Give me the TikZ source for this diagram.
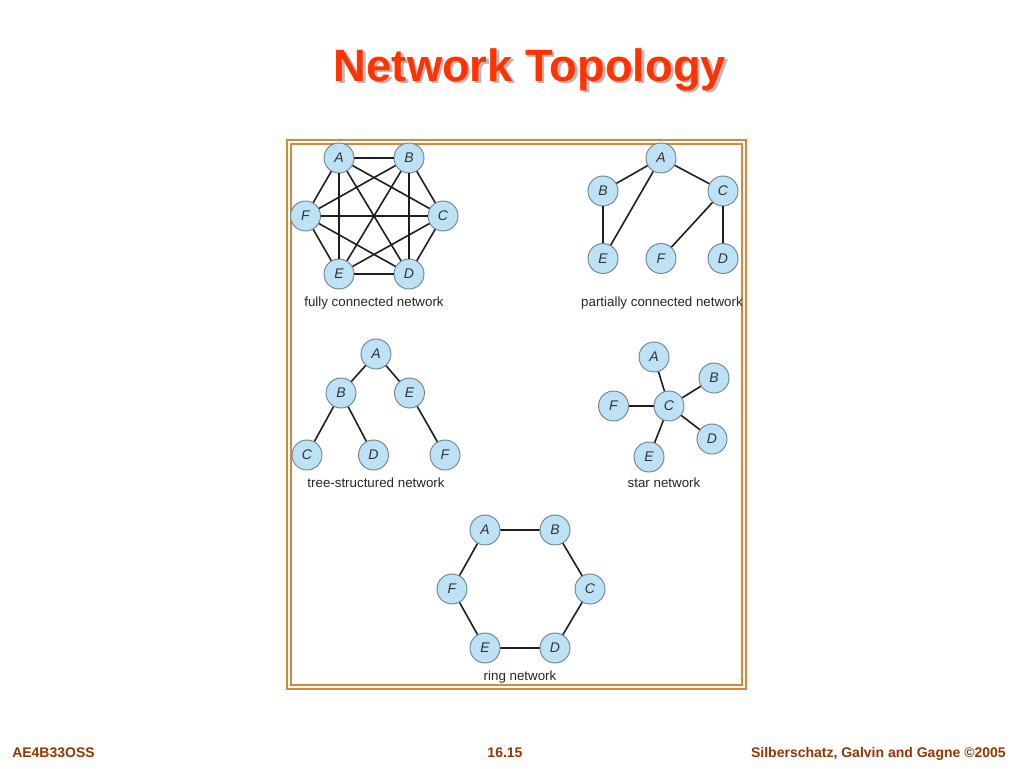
\documentclass[tikz,border=0pt]{standalone}
\usepackage{fontspec}
\setmainfont{Liberation Sans}
\definecolor{titlered}{HTML}{FF3300}
\definecolor{footbrown}{HTML}{993300}
\definecolor{frameorange}{HTML}{D8873A}
\definecolor{nodefill}{HTML}{BEE2F5}
\definecolor{nodeline}{HTML}{6E8290}
\definecolor{edgecol}{HTML}{1E1E1E}
\definecolor{nodetext}{HTML}{333333}
\newcommand{\shadowtitle}[1]{\rlap{\kern1.9pt\raisebox{-1.9pt}{\color{black!28}#1}}#1}
\begin{document}
\begin{tikzpicture}[x=0.75pt,y=-0.75pt,
  nd/.style={circle,draw=nodeline,line width=0.7pt,fill=nodefill,minimum size=22.5pt,inner sep=0pt,text=nodetext,font=\fontsize{10.5}{12}\selectfont\itshape},
  ed/.style={draw=edgecol,line width=1.2pt},
  caption text/.style={font=\fontsize{10}{12}\selectfont,anchor=base,inner sep=0pt,text=black!85},
  foot/.style={font=\fontsize{10.5}{12}\selectfont\bfseries,text=footbrown,anchor=base,inner sep=0pt},
  frm/.style={draw=frameorange,line width=1.1pt}]
\useasboundingbox (0,0) rectangle (1024,768);
% title (with its drop shadow)
\node[anchor=base,inner sep=0pt,font=\fontsize{34}{38}\selectfont\bfseries,text=titlered] (title) at (530,81) {\shadowtitle{Network Topology}};
% frame
\draw[frm] (287,140) rectangle (746,689);
\draw[frm] (291,144) rectangle (742,685);
% fully connected
\node[nd] (fa) at (339,158) {A};
\node[nd] (fb) at (409,158) {B};
\node[nd] (ff) at (305.5,216) {F};
\node[nd] (fc) at (443,216) {C};
\node[nd] (fe) at (339,274) {E};
\node[nd] (fd) at (409,274) {D};
\foreach \u/\v in {fa/fb,fa/fc,fa/fd,fa/fe,fa/ff,fb/fc,fb/fd,fb/fe,fb/ff,fc/fd,fc/fe,fc/ff,fd/fe,fd/ff,fe/ff}
  \draw[ed] (\u) -- (\v);
\node[caption text] (fcap) at (374,306) {fully connected network};
% partially connected
\node[nd] (pa) at (661,158) {A};
\node[nd] (pb) at (603,191) {B};
\node[nd] (pc) at (723,191) {C};
\node[nd] (pe) at (603,258.5) {E};
\node[nd] (pf) at (661,258.5) {F};
\node[nd] (pd) at (723,258.5) {D};
\draw[ed] (pa) -- (pb);
\draw[ed] (pa) -- (pe);
\draw[ed] (pa) -- (pc);
\draw[ed] (pb) -- (pe);
\draw[ed] (pc) -- (pf);
\draw[ed] (pc) -- (pd);
\node[caption text] (pcap) at (662,306) {partially connected network};
% tree
\node[nd] (ta) at (376,354) {A};
\node[nd] (tb) at (341,393) {B};
\node[nd] (te) at (409.5,393) {E};
\node[nd] (tc) at (307,455) {C};
\node[nd] (td) at (373.5,455) {D};
\node[nd] (tf) at (445,455) {F};
\draw[ed] (ta) -- (tb);
\draw[ed] (ta) -- (te);
\draw[ed] (tb) -- (tc);
\draw[ed] (tb) -- (td);
\draw[ed] (te) -- (tf);
\node[caption text] (tcap) at (376,487) {tree-structured network};
% star
\node[nd] (sa) at (654,357) {A};
\node[nd] (sb) at (714,378) {B};
\node[nd] (sf) at (613.5,406) {F};
\node[nd] (sc) at (669,406) {C};
\node[nd] (sd) at (712,439) {D};
\node[nd] (se) at (649,457) {E};
\foreach \v in {sa,sb,sf,sd,se}
  \draw[ed] (sc) -- (\v);
\node[caption text] (scap) at (664,487) {star network};
% ring
\node[nd] (ra) at (485,530) {A};
\node[nd] (rb) at (555,530) {B};
\node[nd] (rf) at (452,589) {F};
\node[nd] (rc) at (590,589) {C};
\node[nd] (re) at (485,648) {E};
\node[nd] (rd) at (555,648) {D};
\draw[ed] (ra) -- (rb) -- (rc) -- (rd) -- (re) -- (rf) -- (ra);
\node[caption text] (rcap) at (520,680) {ring network};
% footer
\node[foot,anchor=base west] (f1) at (12,757) {AE4B33OSS};
\node[foot] (f2) at (505,757) {16.15};
\node[foot,anchor=base east] (f3) at (1006,757) {Silberschatz, Galvin and Gagne ©2005};
\end{tikzpicture}
\end{document}
